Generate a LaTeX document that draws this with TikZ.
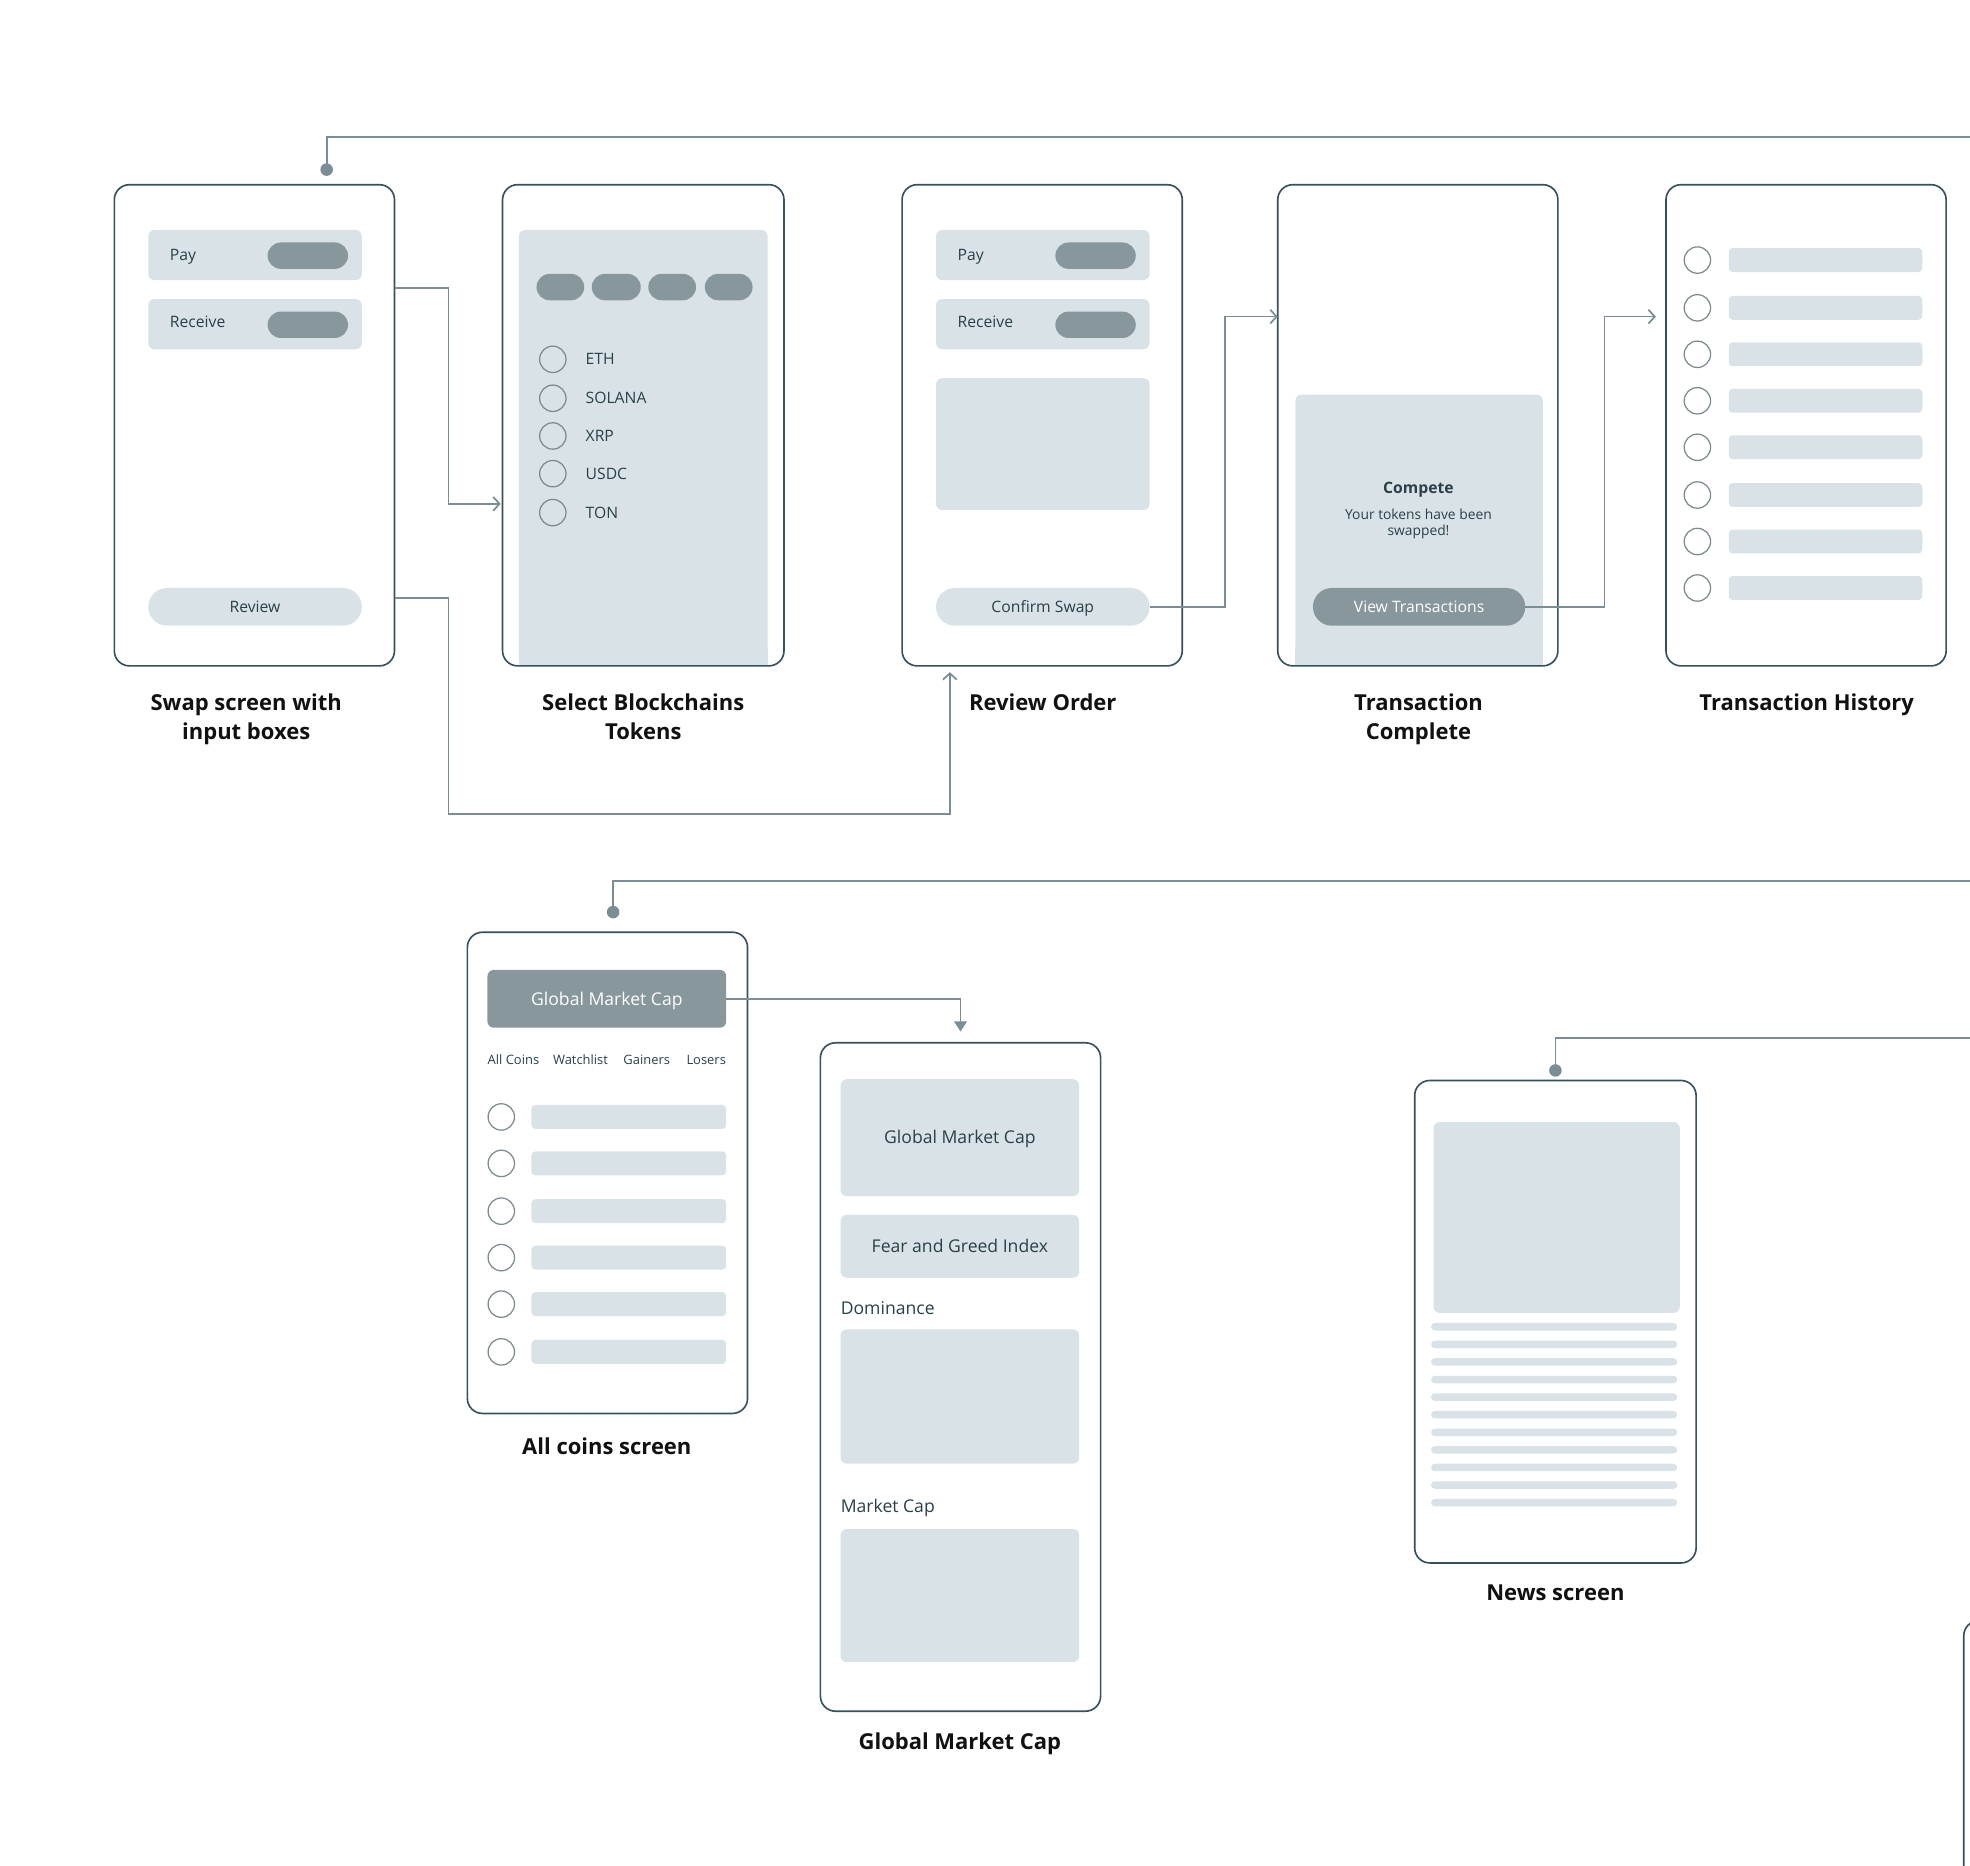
\documentclass[tikz,border=0pt]{standalone}
\usepackage{fontspec}
\setmainfont{Open Sans}
\usetikzlibrary{arrows.meta,calc}
\definecolor{frameC}{HTML}{36505C}
\definecolor{connC}{HTML}{7B8E96}
\definecolor{lightC}{HTML}{D9E3E7}
\definecolor{pillC}{HTML}{87979C}
\definecolor{textC}{HTML}{2A4048}
\definecolor{labelC}{HTML}{111111}
\definecolor{circC}{HTML}{7D8B90}
\newcommand{\uibox}[7]{%
  \node[#1, minimum width={(#5)-(#3)}, minimum height={(#6)-(#4)}] (#2) at ({((#3)+(#5))/2},{((#4)+(#6))/2}) {#7};}
\begin{document}
\begin{tikzpicture}[x=1pt,y=-1pt,
  screen/.style={draw=frameC, line width=1.3pt, rounded corners=12pt, inner sep=0pt, outer sep=0pt},
  lbox/.style={fill=lightC, rounded corners=5pt, inner sep=0pt, outer sep=0pt, font=\fontsize{14}{16}\selectfont, text=textC, text height=13pt, text depth=3pt},
  dbox/.style={fill=pillC, rounded corners=5pt, inner sep=0pt, outer sep=0pt, font=\fontsize{14}{16}\selectfont, text=white, text height=13pt, text depth=3pt},
  pill/.style={fill=pillC, rounded corners=10.5pt, inner sep=0pt, outer sep=0pt},
  btn/.style={fill=lightC, rounded corners=15pt, inner sep=0pt, outer sep=0pt, font=\fontsize{12.5}{15}\selectfont, text=textC, text height=11.4pt, text depth=2.5pt},
  dbtn/.style={fill=pillC, rounded corners=15pt, inner sep=0pt, outer sep=0pt, font=\fontsize{12.5}{15}\selectfont, text=white, text height=11.4pt, text depth=2.5pt},
  bar/.style={fill=lightC, rounded corners=3pt, inner sep=0pt, outer sep=0pt},
  radio/.style={draw=circC, line width=1pt, circle, minimum size=21pt, inner sep=0pt},
  itext/.style={font=\fontsize{12.5}{15}\selectfont, text=textC, inner sep=0pt, anchor=base west},
  stext/.style={font=\fontsize{10.3}{12}\selectfont, text=textC, inner sep=0pt, anchor=base west},
  lbl/.style={font=\fontsize{17.5}{23}\selectfont\bfseries, text=labelC, align=center, inner sep=0pt, anchor=north},
  conn/.style={draw=connC, line width=1.4pt},
  open/.style={-{Straight Barb[length=5pt,width=11pt,line width=1.4pt]}},
  fillarrow/.style={-{Triangle[length=8pt,width=10pt]}},
  dot/.style={circle, fill=connC, minimum size=10pt, inner sep=0pt},
]
\useasboundingbox (0,0) rectangle (1568,1485);
\clip (0,0) rectangle (1568,1485);

% ---------- Swap screen ----------
\uibox{lbox}{swpay}{118}{183}{288}{223}{}
\uibox{pill}{swpayp}{213}{193}{277}{214}{}
\node[itext] (swpayt) at (135,207.5) {Pay};
\uibox{lbox}{swrec}{118}{238}{288}{278}{}
\uibox{pill}{swrecp}{213}{248}{277}{269}{}
\node[itext] (swrect) at (135,260.5) {Receive};
\uibox{btn}{swreview}{118}{468}{288}{498}{Review}

% ---------- Select blockchains ----------
\fill[lightC, rounded corners=5pt] (413,183) rectangle (611,529.4);
\fill[lightC] (413,515) rectangle (611,529.4);
\uibox{pill}{sp1}{427}{218}{465}{239}{}
\uibox{pill}{sp2}{471}{218}{510}{239}{}
\uibox{pill}{sp3}{516}{218}{554}{239}{}
\uibox{pill}{sp4}{561}{218}{599}{239}{}
\foreach \yy/\tt [count=\i] in {286/ETH,317/SOLANA,347/XRP,377/USDC,408/TON}{
  \node[radio] (sr\i) at (440,\yy) {};
  \node[itext] (st\i) at (466,\yy+4.5) {\tt};
}

% ---------- Review order ----------
\uibox{lbox}{rvpay}{745}{183}{915}{223}{}
\uibox{pill}{rvpayp}{840}{193}{904}{214}{}
\node[itext] (rvpayt) at (762,207.5) {Pay};
\uibox{lbox}{rvrec}{745}{238}{915}{278}{}
\uibox{pill}{rvrecp}{840}{248}{904}{269}{}
\node[itext] (rvrect) at (762,260.5) {Receive};
\uibox{lbox}{rvbig}{745}{301}{915}{406}{}
\uibox{btn}{confirm}{745}{468}{915}{498}{Confirm Swap}

% ---------- Transaction complete ----------
\fill[lightC, rounded corners=5pt] (1031,314) rectangle (1228,529.4);
\fill[lightC] (1031,515) rectangle (1228,529.4);
\node[font=\fontsize{12.5}{15}\selectfont\bfseries, text=textC, inner sep=0pt] (compete) at (1129,390) {Compete};
\node[font=\fontsize{11}{13.5}\selectfont, text=textC, align=center, inner sep=0pt] (swapped) at (1129,417) {Your tokens have been\\swapped!};
\uibox{dbtn}{viewtx}{1045}{468}{1214}{498}{View Transactions}

% ---------- Transaction history ----------
\foreach \yy [count=\i] in {207,245,282,319,356,394,431,468}{
  \node[radio] (hr\i) at (1351,\yy) {};
  \uibox{bar}{hb\i}{1376}{\yy-9.5}{1530}{\yy+9.5}{}
}

% ---------- All coins ----------
\uibox{dbox}{gmchead}{388}{772}{578}{818}{Global Market Cap}
\node[stext] (tab1) at (388,847.5) {All Coins};
\node[stext] (tab2) at (440,847.5) {Watchlist};
\node[stext] (tab3) at (496,847.5) {Gainers};
\node[stext, anchor=base east] (tab4) at (578,847.5) {Losers};
\foreach \yy [count=\i] in {889,926,964,1001,1038,1076}{
  \node[radio] (ar\i) at (399,\yy) {};
  \uibox{bar}{ab\i}{423}{\yy-9.5}{578}{\yy+9.5}{}
}

% ---------- Global market cap ----------
\uibox{lbox}{g1}{669}{859}{859}{952}{Global Market Cap}
\uibox{lbox}{g2}{669}{967}{859}{1017}{Fear and Greed Index}
\node[font=\fontsize{14}{16}\selectfont, text=textC, inner sep=0pt, anchor=base west] (domt) at (669,1046) {Dominance};
\uibox{lbox}{g3}{669}{1058}{859}{1165}{}
\node[font=\fontsize{14}{16}\selectfont, text=textC, inner sep=0pt, anchor=base west] (mct) at (669,1204) {Market Cap};
\uibox{lbox}{g4}{669}{1217}{859}{1323}{}

% ---------- News ----------
\uibox{lbox}{nimg}{1141}{893}{1337}{1045}{}
\foreach \yy [count=\i] in {1056,1070,1084,1098,1112,1126,1140,1154,1168,1182,1196}{
  \uibox{bar}{nl\i}{1139}{\yy-3}{1335}{\yy+3}{}
}

% ---------- Screen frames ----------
\uibox{screen}{swap}{91}{147}{314}{530}{}
\uibox{screen}{select}{400}{147}{624}{530}{}
\uibox{screen}{review}{718}{147}{941}{530}{}
\uibox{screen}{complete}{1017}{147}{1240}{530}{}
\uibox{screen}{history}{1326}{147}{1549}{530}{}
\uibox{screen}{allcoins}{372}{742}{595}{1125}{}
\uibox{screen}{gmc}{653}{830}{876}{1362}{}
\uibox{screen}{news}{1126}{860}{1350}{1244}{}
\draw[draw=frameC, line width=1.3pt, rounded corners=12pt] (1563,1500) -- (1563,1290) -- (1620,1290);

% ---------- Labels ----------
\node[lbl] (l1) at (196,552) {Swap screen with\\input boxes};
\node[lbl] (l2) at (512,552) {Select Blockchains\\Tokens};
\node[lbl] (l3) at (830,552) {Review Order};
\node[lbl] (l4) at (1129,552) {Transaction\\Complete};
\node[lbl] (l5) at (1438,552) {Transaction History};
\node[lbl] (l6) at (483,1144) {All coins screen};
\node[lbl] (l7) at (764,1379) {Global Market Cap};
\node[lbl] (l8) at (1238,1261) {News screen};

% ---------- Connectors ----------
\coordinate (end1) at (1568,109);
\coordinate (end2) at (1568,701);
\coordinate (end3) at (1568,826);
\node[dot] (d1) at ([xshift=169pt,yshift=12pt]swap.north west) {};
\draw[conn] (d1.center) |- (end1);
\node[dot] (d2) at ([xshift=116pt,yshift=16pt]allcoins.north west) {};
\draw[conn] (d2.center) |- (end2);
\node[dot] (d3) at ([xshift=112pt,yshift=8pt]news.north west) {};
\draw[conn] (d3.center) |- (end3);

\draw[conn, open, shorten >=1.5pt] ([yshift=-82pt]swap.north east) -- ++(43,0) |- ([yshift=-254pt]select.north west);
\draw[conn, open, shorten >=5pt] ([yshift=-329pt]swap.north east) -- ++(43,0) -- ++(0,172) -| ([xshift=38pt]review.south west);
\draw[conn, open] (confirm.east) -- ++(60,0) |- ([yshift=-105pt]complete.north west);
\draw[conn, open, shorten >=8pt] (viewtx.east) -- ++(63,0) |- ([yshift=-105pt]history.north west);
\draw[conn, fillarrow, shorten >=9pt] (gmchead.east) -| (gmc.north);
\end{tikzpicture}
\end{document}
